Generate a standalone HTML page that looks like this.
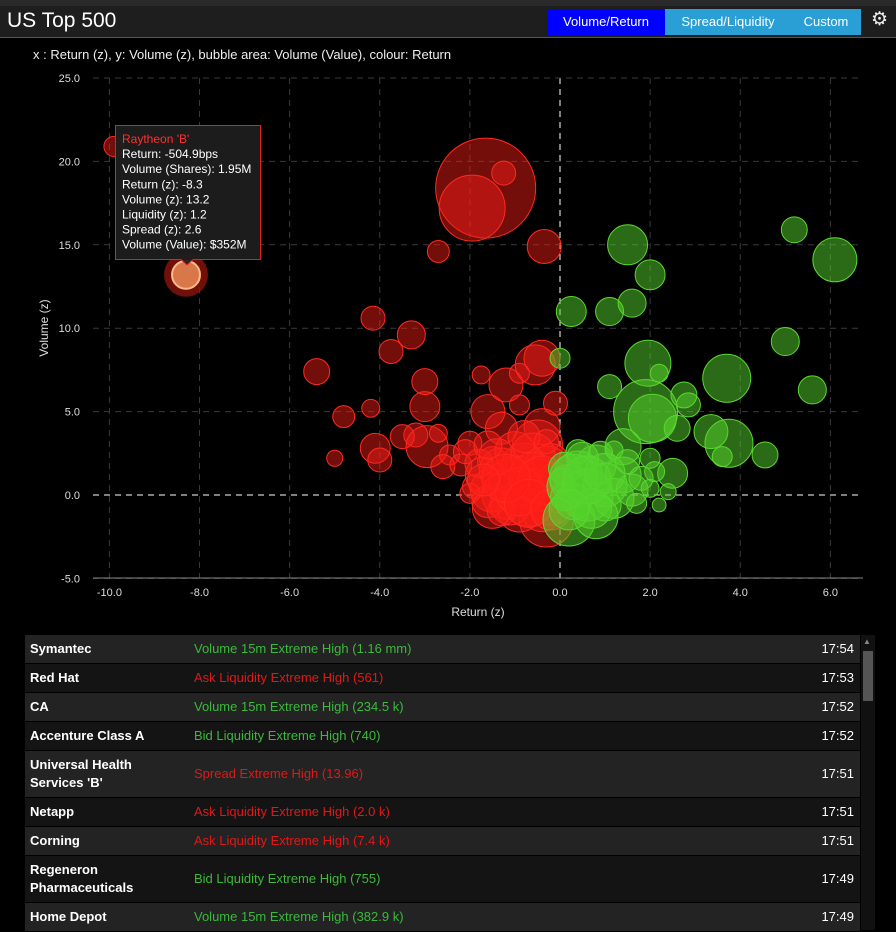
<!DOCTYPE html>
<html><head><meta charset="utf-8">
<style>
*{margin:0;padding:0;box-sizing:border-box}
body{width:896px;height:930px;background:#000;font-family:"Liberation Sans",sans-serif;overflow:hidden;position:relative;color:#fff}
#hdr{position:absolute;left:0;top:0;width:896px;height:38px;background:#1e1e1e;border-bottom:1px solid #555}
#hdr .top{position:absolute;left:0;top:0;width:896px;height:6px;background:#2a2a2a}
#title{position:absolute;left:7px;top:9px;font-size:21px;color:#fff}
.btn{position:absolute;top:9px;height:26px;line-height:26px;font-size:13px;color:#fff;text-align:center}
#sub{position:absolute;left:33px;top:47px;font-size:13px;color:#eee}
#tbl{position:absolute;left:25px;top:635px;width:835px}
.row{position:relative;width:835px;border-bottom:1px solid #000;font-size:13px}
.row .n{position:absolute;left:5px;font-weight:bold;color:#fff;line-height:18px}
.row .m{position:absolute;left:169px}
.row .t{position:absolute;right:6px}
.g{color:#3cb83c}.r{color:#e01818}
#sb{position:absolute;left:861px;top:635px;width:14px;height:295px;background:#111}
</style></head><body>
<div id="hdr"><div class="top"></div>
<div id="title">US Top 500</div>
<div class="btn" style="left:547px;width:118px;background:#0000ff">Volume/Return</div>
<div class="btn" style="left:665px;width:126px;background:#2a9fd6">Spread/Liquidity</div>
<div class="btn" style="left:791px;width:70px;background:#2a9fd6">Custom</div>
<div style="position:absolute;left:871px;top:8px;font-size:19px;color:#eee">⚙</div>
</div>
<div id="sub">x : Return (z), y: Volume (z), bubble area: Volume (Value), colour: Return</div>
<svg id="chart" width="896" height="625" style="position:absolute;left:0;top:0"></svg>

<div id="tbl">
<div class="row" style="height:29px;background:#232323;line-height:28px"><span class="n" style="top:5px">Symantec</span><span class="m g">Volume 15m Extreme High (1.16 mm)</span><span class="t">17:54</span></div>
<div class="row" style="height:29px;background:#141414;line-height:28px"><span class="n" style="top:5px">Red Hat</span><span class="m r">Ask Liquidity Extreme High (561)</span><span class="t">17:53</span></div>
<div class="row" style="height:29px;background:#232323;line-height:28px"><span class="n" style="top:5px">CA</span><span class="m g">Volume 15m Extreme High (234.5 k)</span><span class="t">17:52</span></div>
<div class="row" style="height:29px;background:#141414;line-height:28px"><span class="n" style="top:5px">Accenture Class A</span><span class="m g">Bid Liquidity Extreme High (740)</span><span class="t">17:52</span></div>
<div class="row" style="height:47px;background:#232323;line-height:46px"><span class="n" style="top:5px">Universal Health<br>Services 'B'</span><span class="m r">Spread Extreme High (13.96)</span><span class="t">17:51</span></div>
<div class="row" style="height:29px;background:#141414;line-height:28px"><span class="n" style="top:5px">Netapp</span><span class="m r">Ask Liquidity Extreme High (2.0 k)</span><span class="t">17:51</span></div>
<div class="row" style="height:29px;background:#232323;line-height:28px"><span class="n" style="top:5px">Corning</span><span class="m r">Ask Liquidity Extreme High (7.4 k)</span><span class="t">17:51</span></div>
<div class="row" style="height:47px;background:#141414;line-height:46px"><span class="n" style="top:5px">Regeneron<br>Pharmaceuticals</span><span class="m g">Bid Liquidity Extreme High (755)</span><span class="t">17:49</span></div>
<div class="row" style="height:29px;background:#232323;line-height:28px"><span class="n" style="top:5px">Home Depot</span><span class="m g">Volume 15m Extreme High (382.9 k)</span><span class="t">17:49</span></div>
</div>
<div id="sb"><div style="position:absolute;left:2px;top:2px;color:#888;font-size:8px">▲</div><div style="position:absolute;left:2px;top:16px;width:10px;height:50px;background:#555"></div></div>

<script>
const xTicks=[-10,-8,-6,-4,-2,0,2,4,6];
const yTicks=[-5,0,5,10,15,20,25];
const redX=[-9.9,-1.65,-1.95,-1.25,-0.35,-2.7,-4.15,-3.3,-3.75,-5.4,-4.8,-4.2,-5.0,-4.1,-4.0,-3.0,-3.0,-3.2,-3.5,-2.95,-2.7,-2.45,-2.6,-1.75,-1.6,-1.2,-0.9,-0.55,-0.4,-0.9,-0.1,-0.4,-0.5,-1.3,-2.0,-2.2,-1.5,-0.3,
-1.9,-1.7,-1.5,-1.3,-1.2,-1.0,-0.8,-0.7,-0.5,-0.3,-0.2,-0.1,-1.6,-1.4,-1.0,-0.6,-0.2,-1.8,-2.0,-0.9,-0.4,-1.1,-0.1,-0.05,-2.1,-1.6,-0.8,-0.3,-1.3,-0.6,-1.5,-0.9,-0.4,-1.2,-0.7,-0.2,-1.7];
const redY=[20.9,18.4,17.2,19.3,14.9,14.6,10.6,9.6,8.6,7.4,4.7,5.2,2.2,2.8,2.1,6.8,5.3,3.6,3.5,2.9,3.7,2.4,1.7,7.2,5.0,6.6,7.3,7.8,8.2,5.4,5.5,4.1,3.0,4.0,3.1,1.8,2.0,-1.5,
0.5,1.2,0.3,1.5,0.0,0.8,1.8,-0.3,0.6,1.5,-0.5,0.4,-0.4,2.3,2.6,2.4,2.0,1.9,0.1,-0.9,-1.0,-0.6,1.0,-0.2,2.6,3.0,3.5,3.2,-1.0,1.1,-0.8,0.2,0.9,1.0,-0.5,-0.9,0.9];
const redV=[25,625,272,36,72,30,36,49,36,42,30,20,16,56,36,42,56,36,36,110,20,25,36,20,72,72,25,100,81,25,36,81,156,64,36,30,56,182,
36,81,121,121,144,169,121,169,169,144,121,100,64,81,100,121,81,49,25,121,100,100,64,49,36,49,64,36,49,144,100,144,144,144,144,100,64];
const greenX=[1.5,2.0,5.2,6.1,0.25,1.1,1.6,0.0,1.95,2.2,1.1,3.7,5.0,5.6,2.75,1.9,2.05,2.85,2.6,3.35,3.75,3.6,4.55,1.4,2.5,2.0,0.2,
0.2,0.4,0.6,0.8,1.0,1.2,0.3,0.5,1.4,1.6,1.8,0.1,0.7,1.0,0.9,1.5,2.0,2.2,2.4,1.7,0.1,0.4,1.2,2.1,0.05,0.8,0.3,0.6,1.0,0.2];
const greenY=[15.0,13.2,15.9,14.1,11.0,11.0,11.5,8.2,7.9,7.3,6.5,7.0,9.2,6.3,6.0,5.0,4.6,5.4,4.0,3.8,3.1,2.3,2.4,2.9,1.3,2.2,-1.5,
0.5,1.2,0.0,1.8,0.6,-0.2,-0.4,2.2,1.2,0.3,1.0,1.6,-0.8,-0.6,2.5,2.0,0.4,-0.6,0.2,-0.5,-0.1,2.6,2.7,1.4,0.9,-1.3,1.0,0.9,1.3,-0.9];
const greenV=[100,56,42,121,56,49,49,25,132,20,36,144,49,49,42,256,144,36,42,72,144,25,42,81,56,25,169,
121,144,169,100,121,100,81,64,81,64,36,64,100,64,36,36,20,12,16,25,49,36,20,25,36,121,144,144,100,100];
const NS="http://www.w3.org/2000/svg";
const svg=document.getElementById('chart');
const X0=93,X1=863,Y0=78,Y1=578;
function sx(v){return 560+v*45.06;}
function sy(v){return 495-v*16.68;}
function rad(v){return Math.sqrt(v)*2;}
function mk(t,a){const e=document.createElementNS(NS,t);for(const k in a)e.setAttribute(k,a[k]);svg.appendChild(e);return e;}
xTicks.forEach(t=>{
 const l=mk('line',{x1:sx(t),x2:sx(t),y1:Y0,y2:Y1,stroke:t===0?'#fff':'#3a3a3a','stroke-dasharray':'6,5','stroke-width':1});
 
 
 const tx=mk('text',{x:sx(t),y:Y1+18,'text-anchor':'middle',fill:'#ddd','font-size':11,'font-family':'Liberation Sans'});
 tx.textContent=t.toFixed(1);
 
 
});
yTicks.forEach(t=>{
 const l=mk('line',{x1:X0,x2:X1,y1:sy(t),y2:sy(t),stroke:t===0?'#fff':'#3a3a3a','stroke-dasharray':'6,5','stroke-width':1});
 
 
 const tx=mk('text',{x:80,y:sy(t)+4,'text-anchor':'end',fill:'#ddd','font-size':11,'font-family':'Liberation Sans'});
 tx.textContent=t.toFixed(1);
 
 
});
const ax=mk('line',{x1:X0,x2:X1,y1:Y1,y2:Y1,stroke:'#888'});


const xt=mk('text',{x:478,y:616,'text-anchor':'middle',fill:'#ddd','font-size':12,'font-family':'Liberation Sans'});
xt.textContent='Return (z)';


const yt=mk('text',{x:48,y:328,'text-anchor':'middle',fill:'#ddd','font-size':12,'font-family':'Liberation Sans',transform:'rotate(-90 48 328)'});
yt.textContent='Volume (z)';


redX.forEach((v,i)=>{
 const c=mk('circle',{cx:sx(v),cy:sy(redY[i]),r:rad(redV[i]),fill:'rgba(255,32,24,0.45)',stroke:'#ff2a20','stroke-width':1});
 
 
});
greenX.forEach((v,i)=>{
 const c=mk('circle',{cx:sx(v),cy:sy(greenY[i]),r:rad(greenV[i]),fill:'rgba(85,212,44,0.5)',stroke:'#5ad830','stroke-width':1});
 
 
});
const selX=[-8.3],selY=[13.2],selV=[90];
const h=mk('circle',{cx:sx(selX[0]),cy:sy(selY[0]),r:rad(selV[0])+3,fill:'rgba(140,20,10,0.8)'});


const s=mk('circle',{cx:sx(selX[0]),cy:sy(selY[0]),r:rad(selV[0])-5,fill:'#d8784a',stroke:'#ffb888','stroke-width':2});


const tb=mk('path',{d:'M115.5 125.5 H260.5 V259.5 H193 L187 265 L181 259.5 H115.5 Z',fill:'rgba(30,30,30,0.95)',stroke:'#e02222','stroke-width':1});


const lines=["Raytheon 'B'","Return: -504.9bps","Volume (Shares): 1.95M","Return (z): -8.3","Volume (z): 13.2","Liquidity (z): 1.2","Spread (z): 2.6","Volume (Value): $352M"];
lines.forEach((l,i)=>{
 const t=mk('text',{x:122,y:143+i*15.1,fill:i===0?'#ff3030':'#fff','font-size':12,'font-family':'Liberation Sans'});
 t.textContent=l;
 
 
});
</script>
</body></html>
